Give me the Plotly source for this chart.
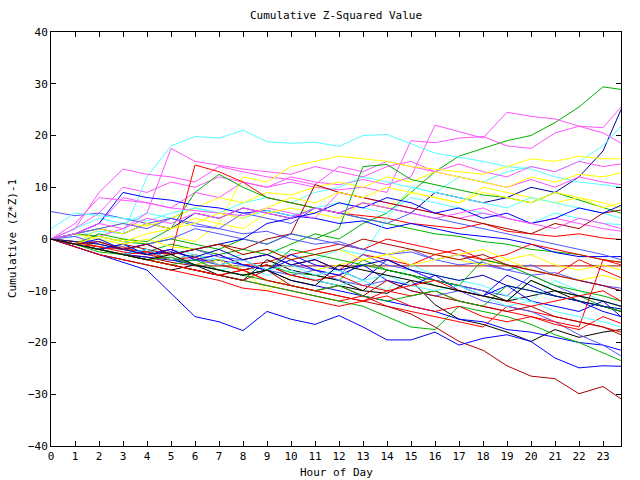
import plotly.graph_objects as go

hours = [0, 1, 2, 3, 4, 5, 6, 7, 8, 9, 10, 11, 12, 13, 14, 15, 16, 17, 18, 19, 20, 21, 22, 23, 23.75]
x_ticks = list(range(0, 24))
y_ticks = [-40, -30, -20, -10, 0, 10, 20, 30, 40]

RED = "#ff0000"; GREEN = "#00b000"; BLUE = "#0000ff"; MAGENTA = "#ff55ff"
CYAN = "#55ffff"; YELLOW = "#ffff00"; BLACK = "#000000"; DARKRED = "#aa0000"
MEDBLUE = "#5555ff"; DARKBLUE = "#0000aa"

g1 = [0, -0.5, -1.5, -2, -2.5, -1, -2, -3, -2, -3, -1, 1, 0, 3, 5, 9, 13, 16, 17.5, 19, 20, 22.5, 25.5, 29.4, 28.9]
db1 = [0, 1, 2, 1, 3, 2, 5, 4, 6, 5, 4, 6, 5, 7, 6, 5, 9, 8, 7, 8, 10, 9, 12, 17, 25]
m1 = [0, 1, 3, 8, 7, 6, 9, 8, 11, 10, 12, 11, 10.5, 11.5, 10.5, 12, 22, 20.8, 19.5, 24.5, 23.7, 23.2, 21.8, 21.5, 25.5]
m2 = [0, 2, 5, 10, 9, 11, 10, 12, 11, 10, 11, 10, 9.5, 10, 9, 19, 18.6, 19.5, 19.8, 18, 17.5, 20.5, 21.8, 20.5, 18.5]
c1 = [0, 0.5, 1.5, 1, 12, 18, 19.8, 19.5, 21, 18.8, 18.5, 18.7, 17.9, 20, 20.2, 18.4, 16.6, 15.8, 15, 14, 13.5, 12, 11, 10.5, 10]
c2 = [0, 2, 4, 3, 5, 4, 6, 5, 7, 8, 7, 9, 10, 12, 11, 10, 9, 12, 11, 13, 14, 13, 15, 18, 21.8]
m3 = [0, 2, 9, 13.5, 12.5, 12, 11, 14, 13, 12, 11.5, 10.5, 14, 13, 15, 14, 13, 14.5, 13, 12, 14, 13, 15, 14, 14.5]
m4 = [0, 1, 0.5, 2, 5, 17.5, 15, 14.3, 13.5, 13, 12.5, 14, 13, 12, 14, 15, 13, 12, 11, 10, 11.5, 10, 12, 11, 10.5]
y1 = [0, -0.5, -1, 0, -1, 0.5, -0.5, 3, 12, 11, 14, 15, 16, 15.5, 15, 14, 13.5, 13, 12.5, 14, 15.5, 15, 16, 15.5, 15.5]
y2 = [0, 1, 2, 3, 2.5, 4, 6, 8, 7, 9, 8.5, 10, 11, 10, 12, 11, 13, 12, 11, 10, 12, 11, 12.5, 12, 12.8]
r1 = [0, -1, -1.5, -2, -2.5, -3, 14.3, 13, 11, 8, 7, 6, 5, 4.5, 4, 3, 2.5, 2, 3, 1.5, 1, 0.5, 1, 0.2, -0.1]
g2 = [0, -1, 1, 0, -0.5, 2, 9, 12.5, 10, 8, 7, 6, 5, 4, 3, 2, 1, 0.5, -0.5, -1, -2, -2.5, -3, -4, -4.5]
g3 = [0, 1, 0.5, -0.5, -1, 0, -1, -2, 0, -1, 1, 0, 2, 14, 14.4, 11.5, 10.5, 9.5, 8.5, 8, 7, 9, 7.5, 6, 5]
b1 = [0, 1, 3, 9, 8, 7.5, 6.5, 6, 5, 5.5, 4.5, 4, 3, 3.5, 2, 3, 2, 1, 0.5, 0, -1, -2.6, -3.4, -3.4, -3.4]
mb1 = [5.3, 4.5, 5, 4, 3, 4, 2.5, 2, 1, 1.5, 0, -1, -0.5, -2, -3, -2.5, -4, -5, -4.5, -6, -7, -6.5, -8, -9, -9.5]
c3 = [2, 5, 4.5, 4, 3.5, 5, 6, 5, 4, 5.5, 4.5, 6, 7, 6, 5, 8, 7, 6, 5, 4, 3, 5, 4, 3, 2.8]
m5 = [0, 3, 8, 7.5, 7, 6, 5.5, 5, 4.5, 6, 5, 4, 9, 8, 7, 6, 5, 4, 5, 4, 3, 4, 3, 2, 1.5]
y3 = [0, -1, 2, 1, 3, 2, 4, 3, 2, 5, 6, 5, 4, 7, 6, 9, 8, 7, 10, 9, 8, 7, 8, 7, 6]
c4 = [0, -1, -2, -1.5, -3, -2, -3, -4, -3, -2, -3, -4, -2, -3, 4, 10, 9, 8, 7, 6, 8, 7, 6, 5, 4]
dr1 = [0, -1, -2, -1, -2, -3, -2, -1, -2, 0, 1, 10.5, 9, 8, 7, 6, 5, 4, 3, 2, 1, 3, 2, 5, 5.6]
r2 = [0, -1, -2, -3, -2.5, -4, -3.5, -5, -4, -3, -5, -4, -6, -3, -4, -5, -3, -2, -4, -3, -1, -2, -3, -4, -5]
r3 = [0, -0.5, -1.5, -2.5, -3, -2, -4, -3, -5, -4.5, -3, -2, -1, -2, 0, -1, -2, -3, -4, -5, -6, -7, -4, -6, -7.5]
dr2 = [0, -1, -2, -3, -3.5, -4.5, -5.2, -5.2, -5.2, -5.2, -5.2, -5.2, -5.2, -5.2, -5.2, -5.2, -5.2, -5.2, -5.2, -5.2, -5.2, -5.2, -5.2, -5.2, -5.2]
b2 = [0, -1, -2, -3, -3.5, -4.1, -4.1, -4.1, -5, -6, -3, -5, -6, -8, -4, -6, -8, -9, -11, -7, -9, -11, -12, -14, -15]
g4 = [0, -1, -2, -1, -3, -4, -3, -5, -6, -5, -6.5, -7, -8, -4, -6, -7, -9, -10, -11, -12, -8, -10, -11, -13, -14]
k1 = [0, -1, -2, -3, -2, -4, -5, -4, -6, -5, -7, -8, -9, -10, -10.5, -8, -12.7, -15.5, -16.5, -18, -19.8, -17.5, -19, -18, -17.5]
k2 = [0, -1.5, -3, -4, -5, -6, -5, -7, -8, -4, -6, -7, -8, -10, -6, -7, -8, -9, -10, -12, -11, -10, -12, -13, -14]
mb2 = [0, -1, -0.5, -2, -1, -3, -2, -3.5, -4, -3, -5, -6, -7, -3, -5, -6, -8, -9, -10, -11, -7, -9, -11, -12, -13]
mb3 = [0, 0.5, -1, -2, -1, 0, 2, 1, 0, -1, 1, 0, -1, -2, -3, -2, -4, -3, -5, -6, -5, -7, -8, -9, -10]
c5 = [0, -1, -2, -1, -3, -4, -5, -6, -5, -7, -6, -8, -9, -8, -10, -5, -7, -8, -9, -11, -12, -8, -10, -12, -13]
y4 = [0, -1, -2, -3, -4, -3, -5, -4, -6, -10, -7, -6, -5, -4, -3, -2, -3, -4, -5, -4, -6, -7, -8, -7, -8]
r4 = [0, -1, -2, -3, -4, -5, -6, -7, -8, -9, -10, -11, -12, -11, -13, -14, -15, -16, -17, -13, -14, -15, -16, -17, -18]
dr3 = [0, -1, -2, -3, -4, -5, -6, -7, -6, -8, -9, -10, -11, -12, -13, -14.5, -17, -19.8, -21.5, -24.5, -26.5, -27, -29.9, -28.5, -30.9]
b_low = [0, -1.5, -3, -4.5, -6, -10.5, -15, -16, -17.7, -14, -15.5, -16.5, -14.8, -17, -19.5, -19.5, -18, -20.5, -19.2, -18.5, -19.8, -23, -24.9, -24.5, -24.6]
b3 = [0, -1, -2, -3, -2, -4, -5, -6, -7, -6, -8, -9, -10, -11, -12, -13, -14, -15.5, -16, -17.5, -18, -19, -20, -20.5, -21.5]
g5 = [0, -1, -2, -3, -4, -5, -6, -7, -8, -9, -10, -11, -12, -13, -15, -17, -17.5, -13, -14, -15, -16.5, -18.5, -20, -22, -23.5]
mb4 = [0, -1, -0.5, -2, -3, -2, -4, -5, -4, -6, -7, -6, -8, -9, -8, -10, -11, -10, -12, -13, -14, -16, -18.5, -20.5, -22.6]
r5 = [0, -1, -2, -1.5, -3, -4, -3, -5, -6, -5, -7, -8, -7, -9, -10, -11, -10, -12, -13, -14, -15, -16.5, -17.5, -15, -16.3]
b4 = [0, -1, -2, -1, -3, -2, -4, -3, -5, -6, -4, -6, -7, -5, -8, -9, -7, -10, -11, -9, -12, -13, -14, -12, -15]
dr4 = [0, -1, -2, -3, -4, -5, -6, -7, -8, -6, -9, -10, -9, -11, -8, -10, -11, -12, -13, -14, -13, -15, -16, -17, -18.5]
g6 = [0, -1, -2.5, -3, -4, -5, -4, -6, -7, -8, -9, -10, -9, -11, -12, -11, -10, -12, -13, -9, -10, -11, -12, -13, -14]
r6 = [0, -1, -2, -3, -4, -5, -6, -7, -6, -8, -9, -10, -11, -12, -11, -13, -14, -13, -15, -16, -15, -16, -17, -4, -4.5]
y5 = [0, 1, 0, -1, 0, -1.5, -2, -1, -3, -2, -4, -3, -2, -4, -3, -5, -4, -3, -2, -4, -3, -5, -6, -5, -6]
c6 = [0, -1, -2, -3, -2, -4, -3, -5, -4, -6, -5, -7, -6, -8, -7, -9, -10, -9, -11, -13, -12, -14, -15, -16, -17]
mb5 = [0, 1, 2, 3, 2, 4, 3, 2, 5, 4, 3, 6, 5, 4, 3, 5, 4, 3, 2, 1, 0, -1, -2, -3, -4]
db2 = [0, -0.5, -1, -2, -3, -2.5, -3.5, -2, -4, -3, -5, -4, -6, -5, -4, -6, -7, -8, -7, -9, -10, -11, -12, -13, -13.5]
g7 = [0, -1, -2, -3, -4, -3.5, -5, -6, -7, -6, -2, -3, -4, -5, -6, -7, -8, -9, -4, -5, -7, -9, -10, -11, -12]
r7 = [0, -1.5, -3, -4, -5, -6, -7, -8, -9.5, -10, -11, -12, -13, -12, -10, -9, -8, -10, -11, -12, -13, -12, -11, -10, -12]
b5 = [0, -1, 0, -2, -1, -3, -2, -1, 0, 3, 4, 5, 7, 6, 8, 7, 5, 6, 4, 5, 3, 4, 6, 5, 6.5]
y6 = [0, -1, 0.5, -0.5, 1, 2, 3, 5, 4, 6, 8, 7, 9, 8, 10, 9, 8, 7, 9, 8, 7, 9, 8, 6, 7]
dr5 = [0, -1, -0.5, -2, -1, -3, -2, -1, -3, -2, -4, -3, -2, 0, -1, -2, -3, -4, -3, -5, -6, -7, -8, -9, -10]
m6 = [0, 1, 3, 2, 4, 3, 5, 4, 6, 5, 4, 6, 5, 7, 6, 5, 4, 5, 6, 4, 3, 2, 4, 3, 2]
k3 = [0, -1, -2, -3, -4, -3, -5, -6, -7, -6, -8, -9, -5, -6, -7, -8, -9, -10, -11, -12, -8, -10, -11, -12, -13]

series = [
    (g1, GREEN), (db1, DARKBLUE), (m1, MAGENTA), (m2, MAGENTA), (c1, CYAN), (c2, CYAN),
    (m3, MAGENTA), (m4, MAGENTA), (y1, YELLOW), (y2, YELLOW), (r1, RED), (g2, GREEN),
    (g3, GREEN), (b1, BLUE), (mb1, MEDBLUE), (c3, CYAN), (m5, MAGENTA), (y3, YELLOW),
    (c4, CYAN), (dr1, DARKRED), (r2, RED), (r3, RED), (dr2, DARKRED), (b2, BLUE),
    (g4, GREEN), (k1, BLACK), (k2, BLACK), (mb2, MEDBLUE), (mb3, MEDBLUE), (c5, CYAN),
    (y4, YELLOW), (r4, RED), (dr3, DARKRED), (b_low, BLUE), (b3, BLUE), (g5, GREEN),
    (mb4, MEDBLUE), (r5, RED), (b4, BLUE), (dr4, DARKRED), (g6, GREEN), (r6, RED),
    (y5, YELLOW), (c6, CYAN), (mb5, MEDBLUE), (db2, DARKBLUE), (g7, GREEN), (r7, RED),
    (b5, BLUE), (y6, YELLOW), (dr5, DARKRED), (m6, MAGENTA), (k3, BLACK),
]

FONT = "DejaVu Sans Mono"
FS = 11

fig = go.Figure()
for vals, col in series:
    fig.add_trace(go.Scatter(x=hours, y=vals, mode="lines",
                             line=dict(color=col, width=1), hoverinfo="skip"))

axis_common = dict(showgrid=False, zeroline=False, showline=True, linecolor="black",
                   linewidth=1, mirror="ticks", ticks="inside", ticklen=5,
                   tickcolor="black", tickwidth=1,
                   tickfont=dict(family=FONT, size=FS, color="black"))

fig.update_layout(
    width=640, height=480,
    margin=dict(l=51, r=19, t=32, b=34),
    paper_bgcolor="white", plot_bgcolor="white",
    showlegend=False,
    font=dict(family=FONT, size=FS, color="black"),
    title=dict(text="Cumulative Z-Squared Value", x=0.5, xref="paper",
               y=1 - 15 / 480, yref="container", yanchor="middle", xanchor="center",
               font=dict(family=FONT, size=FS, color="black")),
    xaxis=dict(range=[0, 23.75], tickvals=x_ticks, **axis_common),
    yaxis=dict(range=[-40, 40], tickvals=y_ticks, **axis_common),
    annotations=[
        dict(text="Hour of Day", x=0.5, xref="paper", y=-26 / 414, yref="paper",
             yanchor="middle", xanchor="center", showarrow=False,
             font=dict(family=FONT, size=FS, color="black")),
        dict(text="Cumulative (Z*Z)-1", x=-39 / 570, xref="paper", y=0.5, yref="paper",
             xanchor="center", yanchor="middle", textangle=-90, showarrow=False,
             font=dict(family=FONT, size=FS, color="black")),
    ],
)

fig.write_html("out.html", config={"displayModeBar": False},
               post_script="document.body.style.margin='0';document.body.style.overflow='hidden';")
